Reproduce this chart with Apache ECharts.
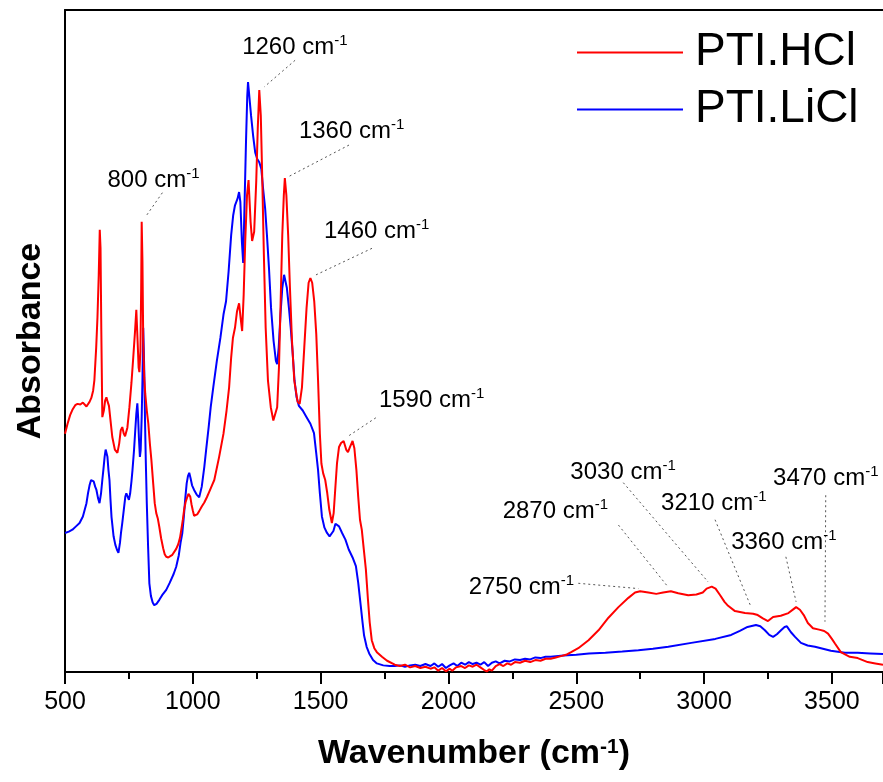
<!DOCTYPE html>
<html>
<head>
<meta charset="utf-8">
<title>FTIR spectra of PTI.HCl and PTI.LiCl</title>
<script src="https://cdn.jsdelivr.net/npm/echarts@6/dist/echarts.min.js"></script>
<style>
  html, body { margin: 0; padding: 0; background: #ffffff; }
  #chart { width: 883px; height: 782px; }
</style>
</head>
<body>
<div id="chart"></div>
<script>
// FTIR absorbance spectra (arbitrary units), wavenumber in cm^-1
const hclWavenumber = [
  500, 510, 520, 529, 540, 549, 560, 570, 584, 596, 603, 610, 615, 622, 627, 632, 636, 639, 642, 646,
  652, 657, 662, 667, 672, 678, 685, 695, 705, 712, 718, 724, 730, 735, 744, 752, 760, 767, 774, 779,
  784, 788, 791, 795, 798, 800, 803, 806, 810, 814, 820, 826, 832, 838, 845, 851, 857, 863, 869, 876,
  884, 890, 896, 904, 912, 920, 927, 935, 943, 950, 955, 961, 966, 972, 978, 983, 986, 990, 995, 1000,
  1005, 1010, 1017, 1025, 1035, 1045, 1055, 1065, 1075, 1084, 1103, 1120, 1132, 1142, 1150, 1157, 1165, 1173, 1181, 1187,
  1193, 1199, 1205, 1212, 1218, 1226, 1232, 1240, 1248, 1254, 1260, 1266, 1272, 1278, 1285, 1294, 1305, 1315, 1322, 1330,
  1337, 1343, 1350, 1356, 1360, 1366, 1373, 1380, 1388, 1397, 1410, 1418, 1427, 1436, 1445, 1453, 1460, 1467, 1475, 1483,
  1490, 1497, 1503, 1510, 1518, 1526, 1534, 1544, 1551, 1557, 1564, 1572, 1580, 1590, 1600, 1607, 1615, 1625, 1632, 1640,
  1647, 1654, 1661, 1669, 1677, 1685, 1692, 1700, 1710, 1720, 1740, 1760, 1790, 1810, 1830, 1850, 1870, 1890, 1910, 1930,
  1945, 1960, 1975, 1990, 2005, 2015, 2030, 2050, 2065, 2080, 2095, 2110, 2125, 2140, 2150, 2160, 2170, 2185, 2200, 2215,
  2230, 2245, 2260, 2280, 2300, 2320, 2340, 2360, 2380, 2400, 2420, 2440, 2460, 2480, 2508, 2548, 2587, 2626, 2665, 2704,
  2730, 2750, 2782, 2813, 2840, 2870, 2899, 2938, 2970, 2995, 3010, 3030, 3045, 3063, 3080, 3094, 3121, 3160, 3192, 3210,
  3230, 3250, 3270, 3300, 3330, 3350, 3360, 3375, 3390, 3406, 3426, 3450, 3470, 3485, 3500, 3512, 3535, 3570, 3601, 3640,
  3670, 3700
];
const hclAbsorbance = [
  36.0, 37.5, 38.8, 39.6, 40.3, 40.5, 40.4, 40.7, 40.1, 40.8, 41.4, 42.5, 44.1, 49.0, 53.6, 60.0, 66.8, 64.0, 51.7, 38.5,
  39.5, 41.0, 41.5, 40.8, 40.2, 38.0, 35.5, 33.6, 33.1, 34.5, 36.5, 37.0, 36.0, 35.6, 36.9, 40.0, 43.7, 47.5, 51.5, 54.7,
  50.0, 46.0, 45.3, 48.5, 58.0, 68.0, 62.0, 50.0, 44.5, 42.0, 39.5, 37.5, 34.5, 32.0, 28.5, 25.5, 24.0, 23.2, 21.9, 20.2,
  18.7, 17.8, 17.4, 17.3, 17.5, 17.7, 18.0, 18.6, 19.3, 20.3, 21.5, 23.0, 24.5, 25.7, 26.4, 26.9, 27.0, 26.5, 25.3, 24.4,
  23.6, 23.4, 23.8, 24.3, 25.0, 25.6, 26.4, 27.3, 28.2, 29.0, 32.5, 36.0, 39.5, 43.0, 47.5, 50.5, 52.0, 54.5, 55.7, 53.5,
  51.5, 57.0, 65.0, 72.0, 74.3, 68.0, 65.1, 66.5, 74.0, 82.0, 87.9, 84.0, 74.0, 63.0, 52.0, 44.0, 40.0, 38.0, 37.8, 40.0,
  46.0, 55.0, 66.0, 72.0, 74.6, 72.0, 66.0, 58.0, 50.0, 44.0, 40.8, 40.5, 43.0, 49.0, 55.0, 58.8, 59.5, 58.8, 56.0, 51.0,
  44.0, 36.0, 31.5, 30.0, 29.0, 27.0, 24.5, 22.5, 24.0, 27.5, 31.5, 34.0, 34.6, 34.9, 33.6, 33.2, 34.0, 34.9, 33.8, 30.5,
  26.5, 23.0, 21.5, 18.5, 15.5, 11.0, 7.5, 4.8, 3.6, 3.0, 2.3, 1.7, 1.1, 0.9, 1.1, 0.7, 0.9, 0.6, 0.8, 0.5,
  0.7, 0.2, 0.6, 0.1, 0.5, 0.2, 0.7, 0.9, 0.6, 1.0, 0.8, 1.1, 0.7, 0.3, 0.1, 0.4, 0.2, 0.9, 1.2, 0.9,
  1.3, 1.1, 1.5, 1.4, 1.7, 1.5, 1.8, 1.7, 2.0, 2.0, 2.2, 2.4, 2.6, 3.0, 3.6, 4.8, 6.3, 8.2, 9.8, 11.2,
  12.0, 12.2, 12.0, 11.8, 12.0, 12.2, 11.9, 11.6, 11.7, 12.0, 12.6, 12.9, 12.6, 11.6, 10.6, 10.0, 9.2, 8.9, 8.8, 8.6,
  8.1, 7.7, 8.3, 8.5, 8.9, 9.5, 9.8, 9.4, 8.6, 7.4, 6.6, 6.4, 6.2, 5.8, 5.0, 4.3, 3.0, 2.3, 2.1, 1.5,
  1.3, 1.1
];

const liclWavenumber = [
  500, 515, 529, 543, 557, 570, 584, 590, 596, 602, 607, 612, 618, 623, 629, 635, 641, 646, 650, 655,
  659, 662, 666, 670, 674, 678, 682, 690, 697, 703, 709, 715, 719, 724, 730, 736, 740, 745, 750, 755,
  760, 764, 770, 775, 779, 783, 786, 789, 793, 796, 800, 803, 806, 808, 810, 813, 816, 820, 825, 830,
  836, 843, 849, 858, 869, 880, 896, 910, 925, 935, 945, 952, 959, 965, 970, 976, 981, 986, 991, 997,
  1005, 1015, 1025, 1035, 1045, 1052, 1062, 1070, 1080, 1094, 1108, 1120, 1130, 1140, 1150, 1158, 1165, 1175, 1181, 1186,
  1192, 1197, 1202, 1208, 1213, 1216, 1221, 1228, 1236, 1244, 1252, 1260, 1268, 1275, 1283, 1290, 1298, 1306, 1316, 1325,
  1330, 1336, 1343, 1350, 1357, 1361, 1368, 1376, 1383, 1390, 1398, 1406, 1415, 1430, 1445, 1460, 1474, 1483, 1490, 1497,
  1505, 1515, 1525, 1535, 1542, 1550, 1558, 1564, 1572, 1584, 1597, 1610, 1625, 1638, 1647, 1657, 1664, 1670, 1680, 1690,
  1705, 1720, 1745, 1770, 1790, 1810, 1830, 1850, 1870, 1890, 1910, 1930, 1945, 1960, 1975, 1990, 2005, 2020, 2035, 2050,
  2065, 2080, 2095, 2110, 2125, 2140, 2155, 2170, 2185, 2200, 2220, 2240, 2260, 2280, 2300, 2320, 2340, 2360, 2380, 2400,
  2450, 2500, 2550, 2614, 2680, 2743, 2800, 2860, 2950, 3044, 3106, 3140, 3170, 3203, 3220, 3238, 3255, 3270, 3285, 3301,
  3315, 3324, 3340, 3356, 3379, 3405, 3434, 3496, 3551, 3601, 3650, 3700
];
const liclAbsorbance = [
  21.0, 21.2, 21.5, 22.0, 22.5, 23.5, 25.5, 27.0, 28.2, 29.0, 29.3, 28.8, 28.0, 27.5, 26.3, 25.5, 27.0, 29.0, 30.5, 32.5,
  33.6, 33.8, 32.5, 30.5, 29.0, 26.0, 23.4, 20.5, 19.2, 18.5, 18.0, 19.5, 21.0, 22.5, 24.5, 26.5, 27.0, 26.7, 26.0, 27.0,
  28.8, 30.5, 33.5, 36.6, 39.0, 40.6, 38.5, 35.5, 32.5, 33.5, 38.5, 44.1, 52.0, 49.0, 45.6, 38.0, 32.0, 25.5, 19.0, 13.4,
  11.5, 10.5, 10.1, 10.3, 10.9, 11.6, 12.4, 13.5, 14.8, 15.9, 17.6, 19.5, 21.0, 23.5, 26.0, 28.5, 29.6, 30.1, 29.3, 28.2,
  27.5, 26.8, 26.4, 28.0, 31.0, 33.5, 37.0, 40.0, 43.0, 47.0, 50.5, 54.0, 56.0, 60.5, 66.0, 69.0, 70.5, 71.5, 72.5, 71.0,
  65.0, 61.8, 70.0, 80.0, 87.0, 89.1, 87.0, 84.0, 81.0, 78.5, 77.5, 77.0, 76.0, 73.0, 70.0, 66.0, 61.0, 55.0, 50.0, 47.0,
  46.5, 49.0, 54.0, 58.0, 60.0, 59.8, 58.0, 55.0, 52.0, 48.5, 44.0, 41.5, 40.2, 39.5, 38.5, 37.5, 36.1, 33.0, 30.5, 27.0,
  23.5, 21.8, 21.0, 20.5, 20.4, 21.3, 22.4, 22.7, 22.0, 21.0, 20.0, 18.5, 17.3, 16.0, 13.5, 10.0, 7.5, 5.5, 3.8, 2.8,
  1.8, 1.3, 1.0, 0.9, 0.9, 1.0, 0.8, 1.0, 1.1, 0.9, 1.2, 0.9, 1.3, 0.8, 1.2, 0.6, 1.0, 1.3, 0.9, 1.4,
  1.1, 1.5, 1.2, 1.4, 1.1, 1.5, 0.9, 1.4, 1.6, 1.3, 1.7, 1.6, 1.9, 1.8, 2.0, 1.9, 2.2, 2.1, 2.3, 2.3,
  2.5, 2.6, 2.8, 2.9, 3.1, 3.3, 3.5, 3.8, 4.4, 5.0, 5.6, 6.2, 6.8, 7.1, 6.9, 6.3, 5.6, 5.3, 5.7, 6.3,
  6.8, 6.9, 6.0, 5.3, 4.4, 4.0, 3.8, 3.2, 2.9, 2.9, 2.8, 2.7
];

// Assigned band positions (cm^-1)
const bandLabels = ['800', '1260', '1360', '1460', '1590', '2750', '2870', '3030', '3210', '3360', '3470'];

// Axis ticks
const xTickStart = 500;
const xTickStep = 500;

// Placement of each band label and its dotted leader, in data units
const bandLayout = [
  { text: [666, 74.2],  from: [881, 72.4],  to: [814, 68.7] },
  { text: [1193, 94.4], from: [1400, 92.4], to: [1280, 88.4] },
  { text: [1415, 81.7], from: [1611, 79.6], to: [1378, 74.9] },
  { text: [1513, 66.5], from: [1701, 64.0], to: [1477, 59.9] },
  { text: [1728, 41.1], from: [1716, 38.4], to: [1603, 35.5] },
  { text: [2079, 12.8], from: [2508, 13.4], to: [2743, 12.6] },
  { text: [2212, 24.2], from: [2665, 22.2], to: [2860, 12.8] },
  { text: [2477, 30.2], from: [2684, 28.6], to: [3016, 13.6] },
  { text: [2832, 25.5], from: [3043, 23.0], to: [3184, 9.8] },
  { text: [3106, 19.6], from: [3320, 17.4], to: [3360, 10.6] },
  { text: [3270, 29.3], from: [3476, 26.7], to: [3473, 7.6] }
];

const pair = (xs, ys) => xs.map((x, i) => [x, ys[i]]);
const FONT = '"Liberation Sans", Arial, sans-serif';

const chart = echarts.init(document.getElementById('chart'), null, { renderer: 'canvas' });

chart.setOption({
  animation: false,
  backgroundColor: '#ffffff',
  grid: { left: 65, right: -2, top: 10, bottom: 110 },
  legend: {
    orient: 'vertical',
    left: 572,
    top: 22,
    icon: 'rect',
    itemWidth: 106,
    itemHeight: 2,
    itemGap: 6,
    textStyle: { fontFamily: FONT, fontSize: 46, color: '#000', lineHeight: 51, padding: [0, 0, 0, 7] },
    data: ['PTI.HCl', 'PTI.LiCl']
  },
  xAxis: [
    {
      type: 'value',
      min: 500,
      max: 3700,
      interval: xTickStep,
      position: 'bottom',
      name: 'Wavenumber (cm{sup|-1})',
      nameLocation: 'middle',
      nameGap: 65,
      nameTextStyle: {
        fontFamily: FONT, fontSize: 34, fontWeight: 'bold', color: '#000',
        rich: { sup: { fontFamily: FONT, fontSize: 21, fontWeight: 'bold', color: '#000', verticalAlign: 'top' } }
      },
      axisLine: { show: true, onZero: false, lineStyle: { color: '#000', width: 2 } },
      axisTick: { show: true, inside: false, length: 12, lineStyle: { color: '#000', width: 2 } },
      minorTick: { show: true, splitNumber: 2, length: 7, lineStyle: { color: '#000', width: 2 } },
      axisLabel: {
        fontFamily: FONT, fontSize: 25, color: '#000', margin: 18,
        showMaxLabel: false,
        formatter: v => ((v - xTickStart) % xTickStep === 0 ? String(v) : '')
      },
      splitLine: { show: false },
      minorSplitLine: { show: false }
    },
    {
      type: 'value',
      min: 500,
      max: 3700,
      position: 'top',
      axisLine: { show: true, onZero: false, lineStyle: { color: '#000', width: 2 } },
      axisTick: { show: false },
      axisLabel: { show: false },
      splitLine: { show: false }
    }
  ],
  yAxis: {
    type: 'value',
    min: 0,
    max: 100,
    name: 'Absorbance',
    nameLocation: 'middle',
    nameGap: 17,
    nameTextStyle: { fontFamily: FONT, fontSize: 34, fontWeight: 'bold', color: '#000' },
    axisLine: { show: true, onZero: false, lineStyle: { color: '#000', width: 2 } },
    axisTick: { show: false },
    axisLabel: { show: false },
    splitLine: { show: false }
  },
  series: [
    {
      name: 'PTI.HCl',
      type: 'line',
      xAxisIndex: 0,
      data: pair(hclWavenumber, hclAbsorbance),
      symbol: 'none',
      lineStyle: { color: '#ff0000', width: 2 },
      itemStyle: { color: '#ff0000' },
      z: 3,
      markLine: {
        silent: true,
        symbol: ['none', 'none'],
        label: { show: false },
        lineStyle: { type: [2, 3], color: '#555', width: 1 },
        data: bandLayout.map(b => [{ coord: b.from }, { coord: b.to }])
      },
      markPoint: {
        silent: true,
        symbol: 'circle',
        symbolSize: 0,
        itemStyle: { color: 'rgba(0,0,0,0)' },
        label: {
          show: true,
          position: 'right',
          distance: 0,
          formatter: p => '{v|' + p.name + ' cm}{s|-1}',
          rich: {
            v: { fontFamily: FONT, fontSize: 24, color: '#000', lineHeight: 28 },
            s: { fontFamily: FONT, fontSize: 15, color: '#000', verticalAlign: 'top', lineHeight: 13 }
          }
        },
        data: bandLabels.map((name, i) => ({ name: name, coord: bandLayout[i].text }))
      }
    },
    {
      name: 'PTI.LiCl',
      type: 'line',
      xAxisIndex: 0,
      data: pair(liclWavenumber, liclAbsorbance),
      symbol: 'none',
      lineStyle: { color: '#0000ff', width: 2 },
      itemStyle: { color: '#0000ff' },
      z: 2
    }
  ]
});
</script>
</body>
</html>
